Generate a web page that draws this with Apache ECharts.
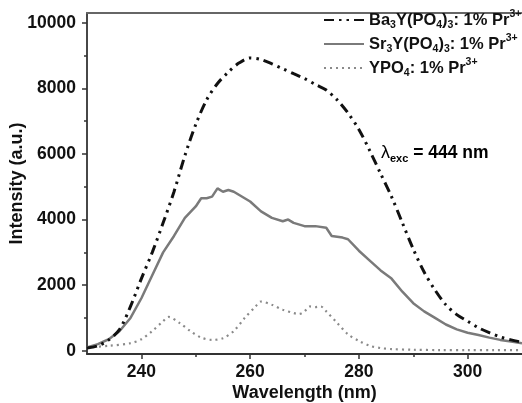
<!DOCTYPE html>
<html><head><meta charset="utf-8">
<script src="https://cdn.jsdelivr.net/npm/echarts@6/dist/echarts.min.js"></script>
<style>html,body{margin:0;padding:0;background:#fff}#c{width:522px;height:403px}</style>
</head><body><div id="c"></div>
<script>
// ---- data ----
const seriesNames = ['Ba3Y(PO4)3: 1% Pr3+', 'Sr3Y(PO4)3: 1% Pr3+', 'YPO4: 1% Pr3+'];
const legendRich = [
  '{n|Ba}{sub|3}{n|Y(PO}{sub|4}{n|)}{sub|3}{n|: 1% Pr}{sup|3+}',
  '{n|Sr}{sub|3}{n|Y(PO}{sub|4}{n|)}{sub|3}{n|: 1% Pr}{sup|3+}',
  '{n|YPO}{sub|4}{n|: 1% Pr}{sup|3+}'
];
const baWl  = [230,232,234,236,238,240,242,244,246,248,250,252,254,256,258,260,262,264,266,268,270,272,274,276,278,280,282,284,286,288,290,292,294,296,298,300,302,304,306,308,310];
const baVal = [80,150,330,650,1350,2200,3000,3900,4850,5950,6900,7650,8150,8500,8780,8930,8880,8750,8600,8450,8300,8120,7950,7650,7250,6750,6100,5400,4700,3900,3100,2400,1850,1400,1100,900,700,550,420,330,260];
const srWl  = [230,232,234,236,238,240,242,244,246,248,250,251,252,253,254,255,256,257,258,260,262,264,266,267,268,270,272,274,275,277,278,280,282,284,286,288,290,292,294,296,298,300,302,304,306,308,310];
const srVal = [100,200,350,600,1000,1600,2300,3000,3500,4050,4400,4650,4650,4700,4950,4850,4900,4850,4750,4550,4250,4050,3950,4000,3900,3800,3800,3750,3500,3450,3400,3050,2750,2450,2200,1800,1450,1200,1000,800,650,550,480,400,330,280,230];
const yWl   = [230,234,238,240,242,244,245,247,249,251,253,255,257,259,261,262,264,266,268,269,270,271,272,273,274,276,278,280,282,284,286,290,295,300,305,310];
const yVal  = [100,150,230,350,600,900,1030,850,600,400,330,380,600,1000,1350,1500,1400,1250,1150,1120,1200,1350,1330,1350,1200,850,500,300,150,80,50,30,20,20,20,20];
const xMajor = [240,260,280,300];
const xMinor = [250,270,290];
const yMajor = [0,2000,4000,6000,8000,10000];
const yMinor = [1000,3000,5000,7000,9000];

const FONT = '"Liberation Sans", Arial, Helvetica, sans-serif';
const pairs = (xs, ys) => xs.map((x, i) => [x, ys[i]]);

const chart = echarts.init(document.getElementById('c'), null, {renderer: 'canvas'});
const axisCol = '#333';
const baseX = {type: 'value', min: 230, max: 310, splitLine: {show: false}, gridIndex: 0};
const baseY = {type: 'value', min: -100, max: 10300, splitLine: {show: false}, gridIndex: 0};

chart.setOption({
  animation: false,
  backgroundColor: '#fff',
  grid: {left: 87, right: 0, top: 13, bottom: 49, containLabel: false, outerBoundsMode: 'none'},
  xAxis: [
    Object.assign({}, baseX, {
      position: 'bottom', offset: 0,
      axisLine: {show: true, onZero: false, lineStyle: {color: axisCol, width: 1.8}},
      axisTick: {show: true, inside: false, length: 5, customValues: xMajor, lineStyle: {color: axisCol, width: 1.5}},
      axisLabel: {customValues: xMajor, margin: 9, fontSize: 17.5, fontWeight: 'bold', fontFamily: FONT, color: '#111',
                  formatter: v => String(v)},
      name: 'Wavelength (nm)', nameLocation: 'middle', nameGap: 30, nameMoveOverlap: false,
      nameTextStyle: {fontSize: 18, fontWeight: 'bold', fontFamily: FONT, color: '#111'}
    }),
    Object.assign({}, baseX, {
      position: 'bottom', offset: 0,
      axisLine: {show: false, onZero: false},
      axisTick: {show: true, inside: false, length: 3, customValues: xMinor, lineStyle: {color: axisCol, width: 1.5}},
      axisLabel: {show: false}
    }),
    Object.assign({}, baseX, {
      position: 'top', offset: 0,
      axisLine: {show: true, onZero: false, lineStyle: {color: '#666', width: 2}},
      axisTick: {show: false}, axisLabel: {show: false}
    })
  ],
  yAxis: [
    Object.assign({}, baseY, {
      position: 'left', offset: 0,
      axisLine: {show: true, onZero: false, lineStyle: {color: axisCol, width: 1.8}},
      axisTick: {show: true, inside: false, length: 5, customValues: yMajor, lineStyle: {color: axisCol, width: 1.5}},
      axisLabel: {customValues: yMajor, margin: 11, fontSize: 17.5, fontWeight: 'bold', fontFamily: FONT, color: '#111',
                  formatter: v => String(v)},
      name: 'Intensity (a.u.)', nameLocation: 'middle', nameGap: 61, nameMoveOverlap: false,
      nameTextStyle: {fontSize: 18, fontWeight: 'bold', fontFamily: FONT, color: '#111'}
    }),
    Object.assign({}, baseY, {
      position: 'left', offset: 0,
      axisLine: {show: false, onZero: false},
      axisTick: {show: true, inside: false, length: 3, customValues: yMinor, lineStyle: {color: axisCol, width: 1.5}},
      axisLabel: {show: false}
    })
  ],
  legend: {
    orient: 'vertical', left: 318, top: 4, itemWidth: 40, itemHeight: 14, itemGap: 2,
    data: seriesNames.slice(),
    itemStyle: {opacity: 0},
    formatter: name => legendRich[seriesNames.indexOf(name)],
    textStyle: {
      fontFamily: FONT, fontWeight: 'bold', color: '#111',
      rich: {
        n: {fontSize: 16.5, fontWeight: 'bold', fontFamily: FONT, color: '#111', lineHeight: 22, verticalAlign: 'middle'},
        sub: {fontSize: 10.5, fontWeight: 'bold', fontFamily: FONT, color: '#111', lineHeight: 10, verticalAlign: 'bottom'},
        sup: {fontSize: 10.5, fontWeight: 'bold', fontFamily: FONT, color: '#111', lineHeight: 10, verticalAlign: 'top'}
      }
    }
  },
  graphic: [{
    type: 'text', left: 381, top: 144, z: 10,
    style: {
      text: '{l|λ}{s|exc}{t| = 444 nm}',
      rich: {
        l: {fontSize: 18, fontFamily: FONT, color: '#111', lineHeight: 22, verticalAlign: 'middle'},
        s: {fontSize: 11, fontWeight: 'bold', fontFamily: FONT, color: '#111', lineHeight: 11, verticalAlign: 'bottom'},
        t: {fontSize: 17.5, fontWeight: 'bold', fontFamily: FONT, color: '#111', lineHeight: 22, verticalAlign: 'middle'}
      }
    }
  }],
  series: [
    {name: seriesNames[2], type: 'line', xAxisIndex: 0, yAxisIndex: 0, data: pairs(yWl, yVal), symbol: 'none', smooth: 0.3, z: 2,
     lineStyle: {color: '#8a8a8a', width: 2.2, type: [2, 4]}, itemStyle: {color: '#8a8a8a'}},
    {name: seriesNames[1], type: 'line', xAxisIndex: 0, yAxisIndex: 0, data: pairs(srWl, srVal), symbol: 'none', smooth: false, z: 3,
     lineStyle: {color: '#7a7a7a', width: 2.5}, itemStyle: {color: '#7a7a7a'}},
    {name: seriesNames[0], type: 'line', xAxisIndex: 0, yAxisIndex: 0, data: pairs(baWl, baVal), symbol: 'none', smooth: 0.3, z: 4,
     lineStyle: {color: '#111', width: 3, type: [10, 5, 2.5, 5, 2.5, 5]}, itemStyle: {color: '#111'}}
  ]
});
</script>
</body></html>
